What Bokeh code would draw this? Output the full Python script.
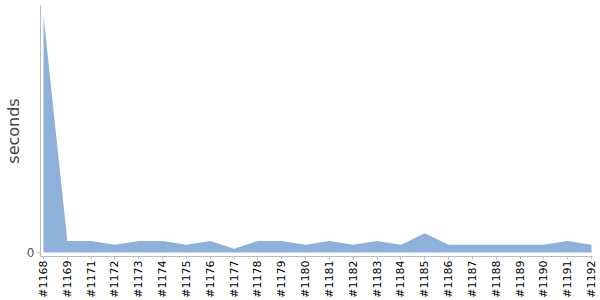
import math
from bokeh.plotting import figure
from bokeh.models import Range1d, FixedTicker
from bokeh.embed import file_html
from bokeh.resources import INLINE

builds = ["#1168", "#1169", "#1171", "#1172", "#1173", "#1174", "#1175", "#1176",
          "#1177", "#1178", "#1179", "#1180", "#1181", "#1182", "#1183", "#1184",
          "#1185", "#1186", "#1187", "#1188", "#1189", "#1190", "#1191", "#1192"]
seconds = [61, 3, 3, 2, 3, 3, 2, 3, 1, 3, 3, 2, 3, 2, 3, 2, 5, 2, 2, 2, 2, 2, 3, 2]

xs = list(range(len(builds)))

p = figure(width=600, height=300, output_backend="svg", toolbar_location=None,
           x_range=Range1d(-0.126, len(builds) - 1 + 0.04),
           y_range=Range1d(-1.0, 63.6),
           min_border_left=40, min_border_right=8, min_border_top=5, min_border_bottom=43)
p.outline_line_color = None
p.grid.grid_line_color = None
p.background_fill_color = "white"
p.border_fill_color = "white"

p.varea(x=xs, y1=[0] * len(xs), y2=seconds, fill_color="#8eb1da", fill_alpha=1.0)

xa = p.xaxis[0]
xa.ticker = FixedTicker(ticks=xs)
xa.major_label_overrides = {i: b for i, b in enumerate(builds)}
xa.major_label_orientation = math.pi / 2
xa.major_label_text_font = "DejaVu Sans"
xa.major_label_text_font_size = "11px"
xa.major_label_text_color = "#000000"
xa.axis_line_color = "#bbbbbb"
xa.major_tick_line_color = "#bbbbbb"
xa.major_tick_out = 3
xa.major_tick_in = 0
xa.minor_tick_line_color = None
xa.major_label_standoff = 1

ya = p.yaxis[0]
ya.ticker = FixedTicker(ticks=[0])
ya.axis_label = "seconds"
ya.axis_label_text_font = "DejaVu Sans"
ya.axis_label_text_font_size = "16px"
ya.axis_label_text_font_style = "normal"
ya.axis_label_text_color = "#444444"
ya.axis_label_standoff = 1
ya.major_label_text_font = "DejaVu Sans"
ya.major_label_text_font_size = "12px"
ya.major_label_text_color = "#555555"
ya.axis_line_color = "#bbbbbb"
ya.major_tick_line_color = "#bbbbbb"
ya.major_tick_out = 3
ya.major_tick_in = 0
ya.minor_tick_line_color = None
ya.major_label_standoff = 3

open("out.html", "w").write(file_html(p, INLINE))
